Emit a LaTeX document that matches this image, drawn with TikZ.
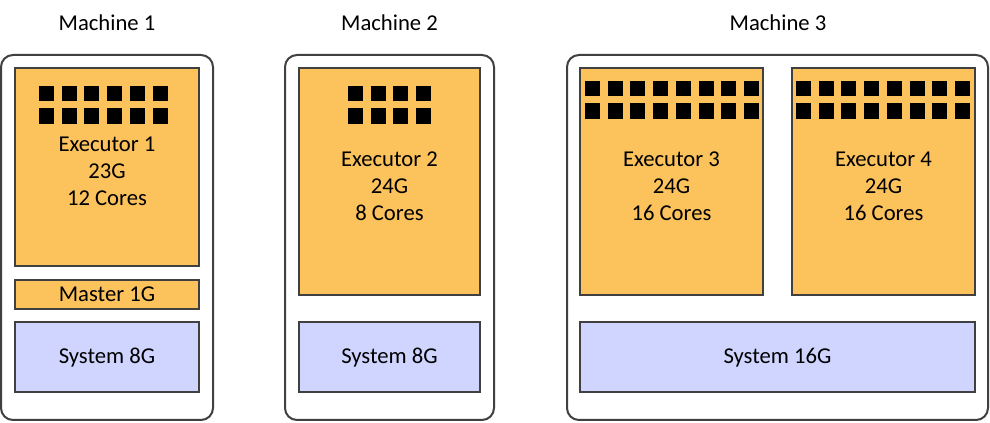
\documentclass[tikz,border=0pt]{standalone}
\usepackage{fontspec}
\setmainfont{Carlito}
\usetikzlibrary{positioning}
\definecolor{execfill}{RGB}{252,194,92}
\definecolor{sysfill}{RGB}{207,213,255}
\definecolor{boxline}{RGB}{64,64,64}

\begin{document}
\begin{tikzpicture}[
    x=0.75pt, y=-0.75pt,
    every node/.style={font=\fontsize{17}{20.25}\selectfont},
    machine/.style={rectangle, draw=boxline, line width=1.5pt, rounded corners=9pt, minimum height=273.75pt, outer sep=0pt},
    executor/.style={rectangle, draw=boxline, line width=1pt, fill=execfill, outer sep=0pt, inner sep=0pt},
    execlabel/.style={align=center, inner sep=0pt, yshift=-3.5pt},
    master/.style={rectangle, draw=boxline, line width=1pt, fill=execfill, minimum width=138pt, minimum height=21.75pt, outer sep=0pt, inner sep=0pt},
    system/.style={rectangle, draw=boxline, line width=1pt, fill=sysfill, minimum height=52.5pt, outer sep=0pt, inner sep=0pt, text depth=1.5pt},
    title/.style={inner sep=0pt}
]
    \useasboundingbox (0,0) rectangle (990,423);

    % --- MACHINE FRAMES ---
    \node [machine, minimum width=159pt] (m1) at (107,237.5) {};
    \node [machine, minimum width=156.75pt] (m2) at (389.5,237.5) {};
    \node [machine, minimum width=315.75pt] (m3) at (777.5,237.5) {};

    \node [title] (m1title) at (107,23) {Machine 1};
    \node [title] (m2title) at (389.5,23) {Machine 2};
    \node [title] (m3title) at (778,23) {Machine 3};

    % --- MACHINE 1 ---
    \node [executor, minimum width=138pt, minimum height=148.5pt,
        label={[execlabel]center:{Executor 1\\23G\\12 Cores}}] (exec1) at (107,167) {};
    \node [master, below=10.5pt of exec1] (master1) {Master 1G};
    \node [system, minimum width=138pt, below=9.75pt of master1] (sys1) {System 8G};

    % --- MACHINE 2 ---
    \node [executor, minimum width=135.75pt, minimum height=170.25pt,
        label={[execlabel]center:{Executor 2\\24G\\8 Cores}}] (exec2) at (389.5,181.5) {};
    \node [system, minimum width=135.75pt, below=20.25pt of exec2] (sys2) {System 8G};

    % --- MACHINE 3 ---
    \node [executor, minimum width=137.25pt, minimum height=170.25pt,
        label={[execlabel]center:{Executor 3\\24G\\16 Cores}}] (exec3) at (671.5,181.5) {};
    \node [executor, minimum width=137.25pt, minimum height=170.25pt, right=21.75pt of exec3,
        label={[execlabel]center:{Executor 4\\24G\\16 Cores}}] (exec4) {};
    \node [system, minimum width=296.25pt] (sys3) at (777.5,357) {System 16G};

    % --- CORES ---
    \foreach \left/\top/\n in {39/86/6, 348/86/4, 585/81/8, 796/81/8} {
        \foreach \i in {1,...,\n} {
            \foreach \j in {0,1} {
                \fill [black] ({\left+(\i-1)*22.7},{\top+\j*22.5}) rectangle ++(15,15.5);
            }
        }
    }

\end{tikzpicture}
\end{document}
